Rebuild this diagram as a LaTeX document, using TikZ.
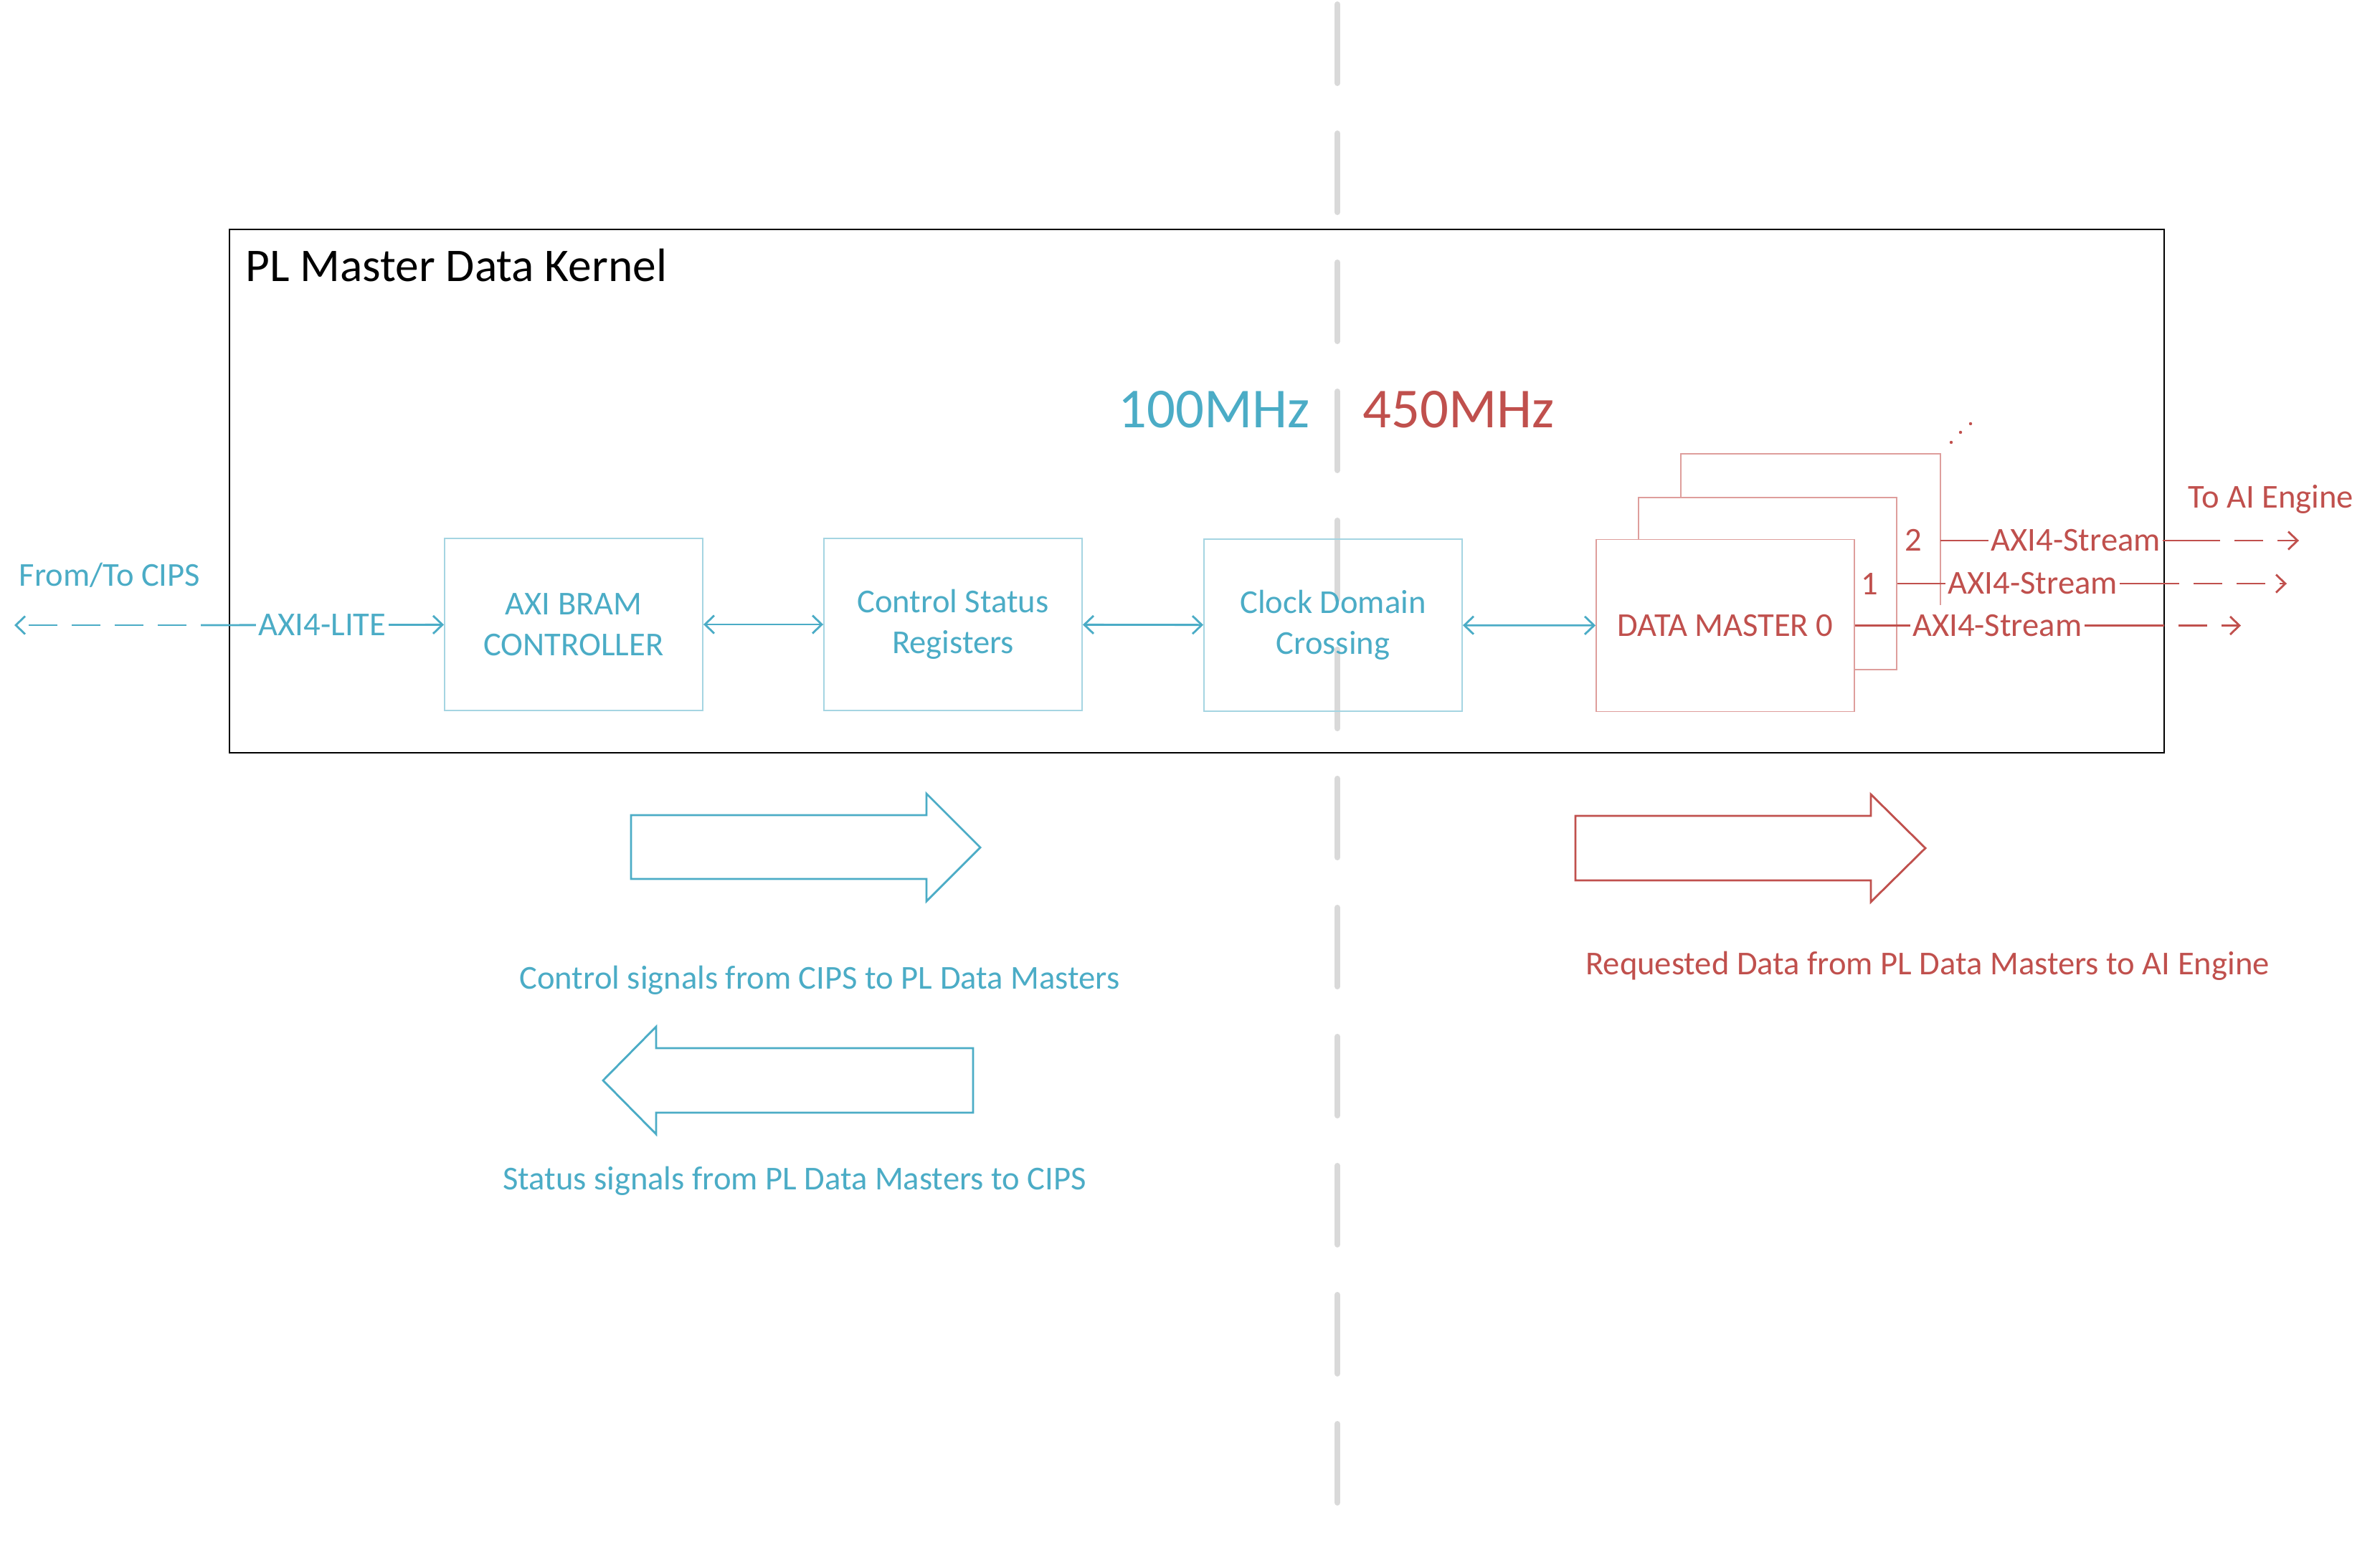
\documentclass[tikz,border=0pt]{standalone}
\usepackage{fontspec}
\setmainfont{Carlito}
\usetikzlibrary{arrows.meta}
\definecolor{aqua}{HTML}{4BACC6}
\definecolor{aqualine}{HTML}{A5D5E2}
\definecolor{brick}{HTML}{C0504D}
\definecolor{brickline}{HTML}{DE9E9C}
\definecolor{divider}{HTML}{D9D9D9}

\begin{document}
\begin{tikzpicture}[
  txt/.style={font=\fontsize{13.26}{16.2}\selectfont},
  block/.style={shape=rectangle, line width=0.55pt, minimum width=3.6cm, minimum height=2.4cm, align=center, txt},
  cblock/.style={block, draw=aqualine, text=aqua},
  rblock/.style={block, draw=brickline, fill=white, text=brick},
  barb/.tip={Straight Barb[length=1.3mm, width=2.5mm]},
  link/.style={draw=aqua, line width=0.8pt, barb-barb},
  stream/.style={draw=brick, line width=0.8pt},
  far/.style={line width=0.8pt, dash pattern=on 0.4cm off 0.2cm, dash phase=0.4cm},
  tag/.style={txt, fill=white, inner sep=1pt},
  bigarrow/.style={line width=0.8pt, fill=white, line join=miter}
]
\useasboundingbox (0,0) rectangle (33.19,-21.62);

% clock boundary
\draw[divider, line width=0.08cm, line cap=round, dash pattern=on 1.1cm off 0.7cm] (18.65,-0.06) -- (18.65,-21.00);

% kernel frame
\node[draw=black, line width=0.75pt, minimum width=26.98cm, minimum height=7.30cm] (kernel) at (16.69,-6.85) {};
\node[anchor=west, font=\fontsize{18.6}{22}\selectfont] (title) at (3.30,-3.70) {PL Master Data Kernel};
\node[anchor=east, text=aqua, font=\fontsize{22.4}{26}\selectfont] (slow) at (18.39,-5.71) {100MHz};
\node[anchor=west, text=brick, font=\fontsize{22.4}{26}\selectfont] (fast) at (18.88,-5.71) {450MHz};

% blocks
\node[cblock] (axi) at (8.00,-8.71) {AXI BRAM\\CONTROLLER};
\node[cblock] (csr) at (13.29,-8.71) {Control Status\\Registers};
\node[cblock] (cdc) at (18.59,-8.72) {Clock Domain\\Crossing};
\node[block] (dm2) at (25.25,-7.54) {};
\draw[brickline, line width=0.55pt] (dm2.south west) -- (dm2.north west) -- (dm2.north east) -- ([yshift=-0.9cm]dm2.east);
\node[rblock] (dm1) at (24.65,-8.14) {};
\node[rblock] (dm0) at (24.06,-8.725) {DATA MASTER 0};
\node[txt, text=brick] (n2) at (26.68,-7.53) {2};
\node[txt, text=brick] (n1) at (26.07,-8.14) {1};
% more masters
\fill[brick] (27.21,-6.17) circle (0.022) (27.34,-6.03) circle (0.022) (27.48,-5.91) circle (0.022);

% connectors inside
\path (axi) edge[link] (csr);
\path (csr) edge[link] (cdc);
\path (cdc) edge[link] (dm0);

% CIPS side
\coordinate (cipsgap) at (2.80,-8.72);
\coordinate (cipstip) at (0.20,-8.72);
\node[txt, text=aqua] (cips) at (1.53,-8.02) {From/To CIPS};
\draw[aqua, line width=0.8pt, -barb] (cipsgap) -- node[tag, text=aqua] {AXI4-LITE} (axi);
\draw[aqua, far, -barb] (cipsgap) -- (cipstip);

% AI Engine side
\coordinate (s2gap) at (30.96,-7.54);
\coordinate (s2tip) at (32.06,-7.54);
\coordinate (s1gap) at (30.39,-8.14);
\coordinate (s1tip) at (31.89,-8.14);
\coordinate (s0gap) at (30.18,-8.725);
\coordinate (s0tip) at (31.25,-8.725);
\node[txt, text=brick] (aie) at (31.67,-6.96) {To AI Engine};
\path (dm2) edge[stream] node[tag, text=brick, pos=0.484] {AXI4-Stream} (s2gap);
\path (dm1) edge[stream] node[tag, text=brick, pos=0.48] {AXI4-Stream} (s1gap);
\path (dm0) edge[stream] node[tag, text=brick, pos=0.46] {AXI4-Stream} (s0gap);
\draw[brick, far, -barb] (s2gap) -- (s2tip);
\draw[brick, far, -barb] (s1gap) -- (s1tip);
\draw[brick, far, -barb] (s0gap) -- (s0tip);

% direction arrows
\draw[bigarrow, draw=aqua] (8.80,-11.37) -- (12.92,-11.37) -- (12.92,-11.07) -- (13.67,-11.82) -- (12.92,-12.57) -- (12.92,-12.26) -- (8.80,-12.26) -- cycle;
\node[txt, text=aqua] (ctrl) at (11.43,-13.67) {Control signals from CIPS to PL Data Masters};
\draw[bigarrow, draw=aqua] (13.57,-14.62) -- (9.15,-14.62) -- (9.15,-14.32) -- (8.41,-15.07) -- (9.15,-15.82) -- (9.15,-15.52) -- (13.57,-15.52) -- cycle;
\node[txt, text=aqua] (stat) at (11.08,-16.47) {Status signals from PL Data Masters to CIPS};
\draw[bigarrow, draw=brick] (21.97,-11.38) -- (26.09,-11.38) -- (26.09,-11.08) -- (26.85,-11.83) -- (26.09,-12.58) -- (26.09,-12.28) -- (21.97,-12.28) -- cycle;
\node[txt, text=brick] (req) at (26.88,-13.47) {Requested Data from PL Data Masters to AI Engine};
\end{tikzpicture}
\end{document}
